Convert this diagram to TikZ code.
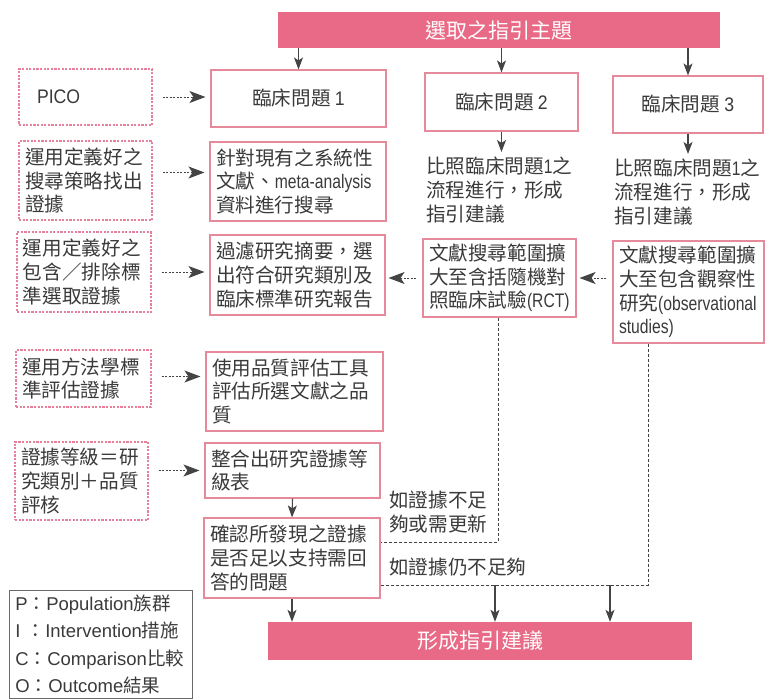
\documentclass[tikz,border=0pt]{standalone}
\usepackage{fontspec}
\setmainfont{Noto Sans CJK TC}
\newfontfamily\latn[FakeStretch=0.8]{Liberation Sans}
\newfontfamily\latw[FakeStretch=0.9]{Liberation Sans}
\newfontfamily\latf{Liberation Sans}
\usetikzlibrary{arrows.meta}
\definecolor{bannerpink}{HTML}{E96A86}
\definecolor{boxpink}{HTML}{E5899B}
\definecolor{dashpink}{HTML}{E7809A}
\definecolor{txt}{HTML}{3A3A3A}
\definecolor{arrgray}{HTML}{444444}
\newcommand{\la}[1]{{\latn #1}}
\newcommand{\lw}[1]{{\latw #1}}
\newcommand{\lf}[1]{{\latf #1}}
\newcommand{\mfs}{\fontsize{19.6}{23.7}\selectfont}
\newcommand{\bfs}{\fontsize{21}{25}\selectfont}
\newcommand{\lfs}{\fontsize{18.5}{27.5}\selectfont}
\begin{document}
\begin{tikzpicture}[x=1pt,y=-1pt,
  box/.style={draw=boxpink, line width=1.1pt, text=txt, font=\mfs, align=left, inner xsep=6pt, inner ysep=3pt},
  cbox/.style={box, align=center},
  dbox/.style={box, draw=dashpink, dash pattern=on 2.2pt off 1.4pt, line width=1.3pt},
  banner/.style={fill=bannerpink, draw=none, text=white, font=\bfs, inner sep=0pt},
  plain/.style={text=txt, font=\mfs, align=left, inner sep=0pt},
  arr/.style={draw=arrgray, line width=1.1pt, -{Stealth[length=12pt,width=9pt,inset=3pt]}},
  darr/.style={draw=arrgray, line width=0.9pt, dash pattern=on 2pt off 1.5pt, -{Stealth[length=16pt,width=12pt,inset=4pt]}},
  dline/.style={draw=arrgray, line width=0.9pt, dash pattern=on 3pt off 2pt},
]
\useasboundingbox (0,0) rectangle (765,699);

% banners
\node[banner, minimum width=442pt, minimum height=36pt] (top) at (499,30) {選取之指引主題};
\node[banner, minimum width=424pt, minimum height=38pt] (bot) at (480,641) {形成指引建議};

% clinical questions
\node[cbox, minimum width=175pt, minimum height=57pt] (q1) at (298.5,98.5) {臨床問題 \lw{1}};
\node[cbox, minimum width=153pt, minimum height=58pt] (q2) at (501.5,102) {臨床問題 \lw{2}};
\node[cbox, minimum width=150pt, minimum height=57pt] (q3) at (688,104.5) {臨床問題 \lw{3}};

\node[plain, anchor=north west] (q2t) at (426,157) {比照臨床問題\la{1}之\\流程進行，形成\\指引建議};
\node[plain, anchor=north west] (q3t) at (614,159) {比照臨床問題\la{1}之\\流程進行，形成\\指引建議};

% left dashed boxes
\node[dbox, align=left, text width=121pt, minimum height=56pt] (pico) at (85.5,97) {\hspace*{12pt}\lw{PICO}};
\node[dbox, text width=121pt, minimum height=79pt] (l2) at (85.5,180.5) {運用定義好之\\搜尋策略找出\\證據};
\node[dbox, text width=122pt, minimum height=80pt] (l3) at (84,272) {運用定義好之\\包含／排除標\\準選取證據};
\node[dbox, text width=123pt, minimum height=57pt] (l4) at (83.5,378.5) {運用方法學標\\準評估證據};
\node[dbox, text width=121pt, minimum height=78pt] (l5) at (81.5,481) {證據等級＝研\\究類別＋品質\\評核};

% right process boxes
\node[box, text width=164pt, minimum height=79pt] (r2) at (298,181.5) {針對現有之系統性\\文獻、\la{meta-analysis}\\資料進行搜尋};
\node[box, text width=163pt, minimum height=80pt] (r3) at (297.5,275) {過濾研究摘要，選\\出符合研究類別及\\臨床標準研究報告};
\node[box, text width=165pt, minimum height=79pt] (r4) at (294.5,391.5) {使用品質評估工具\\評估所選文獻之品\\質};
\node[box, text width=163pt, minimum height=55pt] (r5) at (292.5,470.5) {整合出研究證據等\\級表};
\node[box, text width=164pt, minimum height=80pt] (r6) at (292,558) {確認所發現之證據\\是否足以支持需回\\答的問題};

\node[box, text width=141pt, minimum height=78pt] (rct) at (499.5,278) {文獻搜尋範圍擴\\大至含括隨機對\\照臨床試驗\la{(RCT)}};
\node[box, text width=139pt, minimum height=102pt] (obs) at (688.5,292) {文獻搜尋範圍擴\\大至包含觀察性\\研究\la{(observational}\\\la{studies)}};

% labels on dashed returns
\node[plain, anchor=west] (lab1) at (389,512) {如證據不足\\夠或需更新};
\node[plain, anchor=west] (lab2) at (389,567) {如證據仍不足夠};

% legend
\node[draw=arrgray!80, line width=0.9pt, text=txt, font=\lfs, align=left, anchor=north west,
      text width=171pt, inner xsep=6pt, inner ysep=4pt] (leg) at (9,590)
  {\lf{P}：\lf{Population}族群\\\lf{I} ：\lf{Intervention}措施\\\lf{C}：\lf{Comparison}比較\\\lf{O}：\lf{Outcome}結果};

% solid arrows
\draw[arr] (top.south -| q1.north) -- (q1.north);
\draw[arr] (top.south -| q2.north) -- (q2.north);
\draw[arr] (top.south -| q3.north) -- (q3.north);
\draw[arr, shorten >=5pt] (q2.south) -- (q2.south |- q2t.north);
\draw[arr, shorten >=5pt] (q3.south) -- (q3.south |- q3t.north);
\draw[arr] (r5.south) -- (r6.north);
\draw[arr] (r6.south) -- (r6.south |- bot.north);

% dashed arrows
\draw[darr, shorten <=10pt, shorten >=5pt] (pico.east) -- (pico.east -| q1.west);
\draw[darr, shorten <=10pt, shorten >=5pt] ([yshift=8pt]l2.east) -- ([yshift=8pt]l2.east -| r2.west);
\draw[darr, shorten <=10pt, shorten >=5pt] (l3.east) -- (l3.east -| r3.west);
\draw[darr, shorten <=10pt, shorten >=5pt] ([yshift=2pt]l4.east) -- ([yshift=2pt]l4.east -| r4.west);
\draw[darr, shorten <=10pt, shorten >=5pt] (l5.east |- r5.west) -- (r5.west);
\draw[darr, shorten <=6pt, shorten >=3pt] (rct.west) -- (rct.west -| r3.east);
\draw[darr, shorten <=6pt, shorten >=3pt] (obs.west |- rct.east) -- (rct.east);

% dashed return lines
\draw[dline] ([xshift=-1.5pt]rct.south) |- ([yshift=16pt]r6.east);
\draw[dline] ([xshift=-40.5pt]obs.south) |- ([yshift=-27pt]r6.east);
\coordinate (m1) at (495,585);
\coordinate (m2) at (610,585);
\draw[arr] (m1) -- (m1 |- bot.north);
\draw[arr] (m2) -- (m2 |- bot.north);
\end{tikzpicture}
\end{document}
